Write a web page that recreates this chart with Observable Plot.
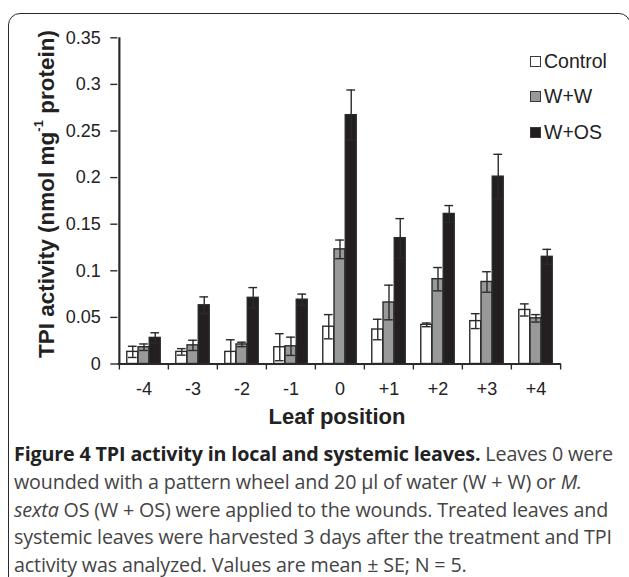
<!DOCTYPE html>
<html><head><meta charset="utf-8">
<script src="https://cdn.jsdelivr.net/npm/d3@7"></script>
<script src="https://cdn.jsdelivr.net/npm/@observablehq/plot@0.6"></script>
<style>
html,body{margin:0;padding:0;background:#fff;}
body{width:629px;height:577px;overflow:hidden;position:relative;font-family:"Liberation Sans",Arial,sans-serif;}
#frame{position:absolute;left:8px;top:13px;width:623px;height:700px;border:1.5px solid #2a2a2a;border-radius:12px;box-sizing:border-box;}
#chart{position:absolute;left:0;top:0;}
#legend{position:absolute;left:530px;top:44px;font-size:19.5px;color:#222;}
#legend .row{height:35.3px;display:flex;align-items:center;}
#legend .sw{width:9px;height:9px;border:1.2px solid #3a3a3a;margin-right:3px;}
#caption{position:absolute;left:14px;top:440px;font-family:"Open Sans",sans-serif;font-size:19.7px;line-height:27.8px;color:#444;white-space:nowrap;letter-spacing:-0.15px;}
#caption b{color:#222;}
</style></head>
<body>
<div id="frame"></div>
<div id="chart"></div>
<div id="legend"></div>
<div id="caption">
<div><b>Figure 4 TPI activity in local and systemic leaves.</b> Leaves 0 were</div>
<div>wounded with a pattern wheel and 20 µl of water (W + W) or <i>M.</i></div>
<div><i>sexta</i> OS (W + OS) were applied to the wounds. Treated leaves and</div>
<div>systemic leaves were harvested 3 days after the treatment and TPI</div>
<div>activity was analyzed. Values are mean ± SE; N = 5.</div>
</div>
<script>
const positions = ["-4","-3","-2","-1","0","+1","+2","+3","+4"];
const seriesNames = ["Control","W+W","W+OS"];
const control   = [0.013,0.013,0.013,0.018,0.040,0.037,0.042,0.046,0.058];
const controlSE = [0.006,0.0035,0.013,0.0145,0.013,0.011,0.002,0.008,0.0065];
const ww        = [0.018,0.020,0.021,0.019,0.123,0.066,0.091,0.088,0.049];
const wwSE      = [0.0035,0.0055,0.0024,0.0098,0.010,0.0186,0.0125,0.011,0.004];
const wos       = [0.028,0.063,0.071,0.069,0.267,0.135,0.161,0.201,0.115];
const wosSE     = [0.0055,0.009,0.011,0.006,0.027,0.021,0.009,0.024,0.008];
const yTickLabels = ["0","0.05","0.1","0.15","0.2","0.25","0.3","0.35"];
const colors = ["#ffffff","#999999","#231f20"];

const values = [control, ww, wos];
const ses = [controlSE, wwSE, wosSE];
const rows = [];
seriesNames.forEach((s, i) => positions.forEach((p, j) => rows.push({pos: p, series: s, value: values[i][j], se: ses[i][j]})));

const W = 629, H = 430, mL = 117.3, mR = 68.3, mT = 37.3, mB = 66.5;
const bw = (W - mL - mR) / positions.length;
const barW = bw * 0.228;
const off = (bw - 3 * barW) / 2;
const ink = "#2a2a2a";

const marks = [];
seriesNames.forEach((s, i) => {
  const left = off + i * barW, right = bw - left - barW;
  marks.push(Plot.barY(rows.filter(r => r.series === s), {
    x: "pos", y: "value", fill: colors[i], stroke: ink, strokeWidth: 1.4,
    insetLeft: left, insetRight: right
  }));
});
seriesNames.forEach((s, i) => {
  const left = off + i * barW;
  const d = rows.filter(r => r.series === s);
  const capW = barW * 0.8;
  const cl = left + (barW - capW) / 2, cr = bw - cl - capW;
  marks.push(Plot.ruleX(d, {x: "pos", y1: r => r.value - r.se, y2: r => r.value + r.se, dx: left + barW / 2 - bw / 2, stroke: ink, strokeWidth: 1.4}));
  marks.push(Plot.tickY(d, {x: "pos", y: r => r.value + r.se, insetLeft: cl, insetRight: cr, stroke: ink, strokeWidth: 1.4}));
  marks.push(Plot.tickY(d, {x: "pos", y: r => r.value - r.se, insetLeft: cl, insetRight: cr, stroke: ink, strokeWidth: 1.4}));
});

const yTickValues = yTickLabels.map(Number);
const chart = Plot.plot({
  width: W, height: H,
  marginLeft: mL, marginRight: mR, marginTop: mT, marginBottom: mB,
  style: {fontFamily: "'Liberation Sans', Arial, sans-serif", fontSize: "18px", color: "#222", background: "transparent"},
  x: {domain: positions, padding: 0, label: null},
  y: {domain: [0, 0.35], label: null},
  marks: [
    ...marks,
    Plot.ruleY([0], {stroke: ink, strokeWidth: 2}),
    Plot.ruleX([positions[0]], {x: d => d, y1: () => 0, y2: () => 0.35, dx: -bw / 2, stroke: ink, strokeWidth: 2.2}),
    Plot.axisY({ticks: yTickValues, tickFormat: d => yTickLabels[yTickValues.indexOf(d)], tickSize: 7, tickPadding: 10, stroke: ink, strokeWidth: 1.4, label: null}),
    Plot.axisX({tickSize: 0, tickPadding: 18, label: null}),
    Plot.axisX({tickSize: 6, tickFormat: () => "", dx: -bw / 2, stroke: ink, strokeWidth: 1.4, label: null}),
    Plot.axisX({ticks: [positions[positions.length - 1]], tickSize: 6, tickFormat: () => "", dx: bw / 2, stroke: ink, strokeWidth: 1.4, label: null})
  ]
});
document.getElementById("chart").appendChild(chart);

const svg = d3.select(chart);
const yl = svg.append("text")
  .attr("transform", "translate(46,194) rotate(-90)")
  .attr("text-anchor", "middle").attr("dominant-baseline", "central")
  .attr("font-weight", "bold").attr("font-size", 22.5).attr("fill", "#222");
yl.append("tspan").text("TPI activity (nmol mg");
yl.append("tspan").attr("font-size", 13).attr("dy", -8).text("-1");
yl.append("tspan").attr("dy", 8).text(" protein)");
svg.append("text").attr("x", 337).attr("y", 424).attr("text-anchor", "middle")
  .attr("font-weight", "bold").attr("font-size", 22).attr("fill", "#222").text("Leaf position");

const leg = d3.select("#legend");
seriesNames.forEach((s, i) => {
  const r = leg.append("div").attr("class", "row");
  r.append("div").attr("class", "sw").style("background", colors[i]);
  r.append("span").text(s);
});
</script>
</body></html>
